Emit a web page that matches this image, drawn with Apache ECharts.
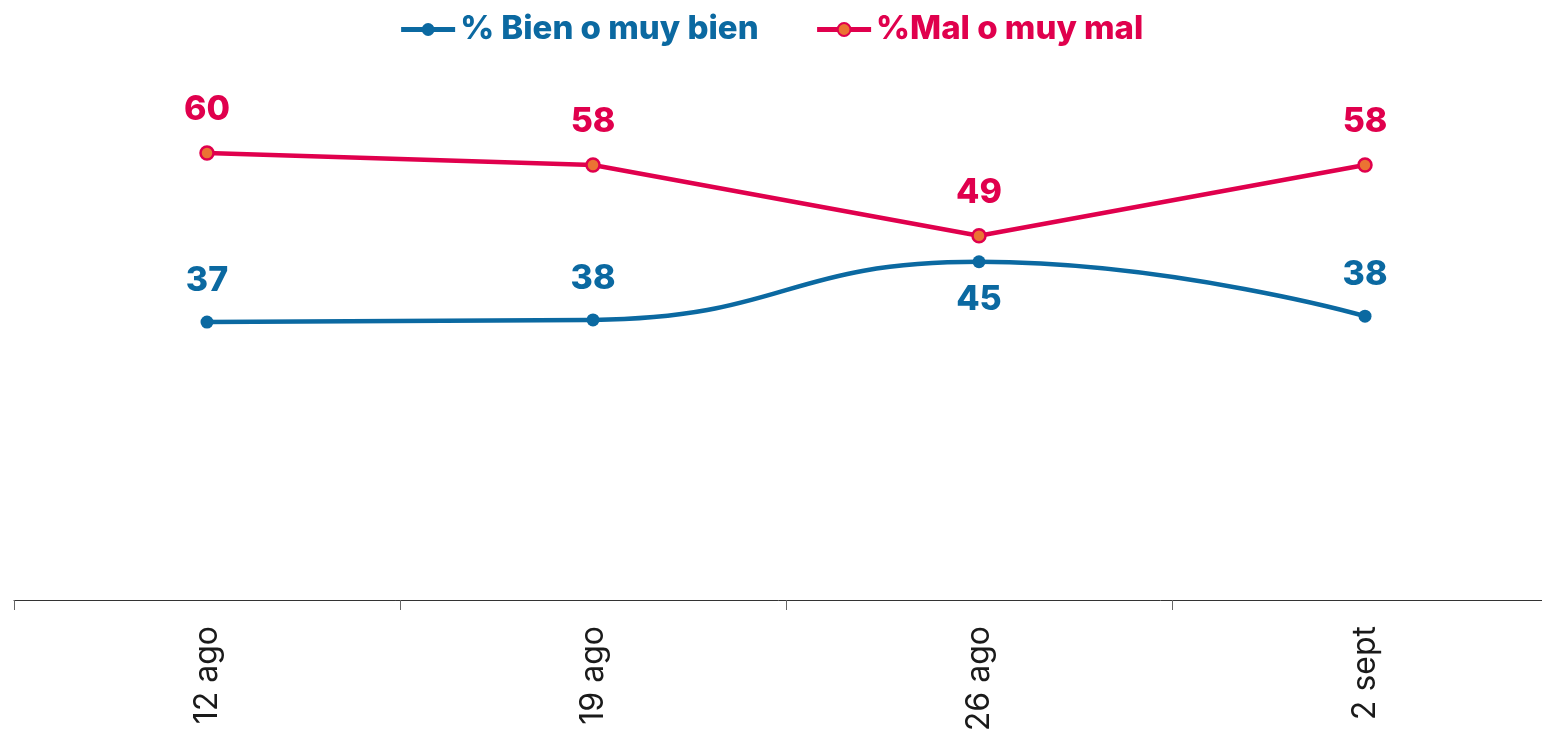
<!DOCTYPE html>
<html>
<head>
<meta charset="utf-8">
<script src="https://cdn.jsdelivr.net/npm/echarts@6/dist/echarts.min.js"></script>
<style>
  html, body { margin: 0; padding: 0; background: #fff; }
  #main { width: 1542px; height: 738px; }
</style>
</head>
<body>
<div id="main"></div>
<script>
// data
var fechas = ["12 ago", "19 ago", "26 ago", "2 sept"];
var bien = [37.3, 37.6, 45.4, 38.1];
var mal = [60.0, 58.4, 48.9, 58.4];

var azul = "#0b69a1";
var rojo = "#e0004d";

var chartDom = document.getElementById("main");
var myChart = echarts.init(chartDom, null, { renderer: "canvas" });

var labelBase = {
  show: true,
  position: "top",
  distance: 18,
  fontFamily: "Inter",
  fontWeight: 800,
  fontSize: 34,
  formatter: function (p) {
    return Math.round(p.value);
  },
};

var option = {
  animation: false,
  legend: {
    top: 8,
    left: "center",
    itemWidth: 54,
    itemHeight: 16,
    itemGap: 56,
    lineStyle: { width: 5 },
    textStyle: {
      fontFamily: "Inter",
      fontWeight: 800,
      fontSize: 33,
    },
    data: [
      { name: "% Bien o muy bien", textStyle: { color: azul } },
      { name: "%Mal o muy mal", textStyle: { color: rojo } },
    ],
  },
  grid: {
    left: 14,
    top: 4,
    width: 1544,
    bottom: 138,
    outerBoundsMode: "none",
    containLabel: false,
  },
  xAxis: {
    type: "category",
    data: fechas,
    axisLine: { lineStyle: { color: "#333", width: 1 } },
    axisTick: { show: true, length: 10, lineStyle: { color: "#666" } },
    axisLabel: {
      rotate: 90,
      margin: 26,
      fontFamily: "Inter",
      fontSize: 32,
      color: "#1a1a1a",
    },
  },
  yAxis: {
    type: "value",
    min: 0,
    max: 80,
    show: false,
    splitLine: { show: false },
  },
  series: [
    {
      name: "% Bien o muy bien",
      type: "line",
      smooth: 0.5,
      data: bien.map(function (v, i) {
        if (i === 2) {
          return { value: v, label: { position: "bottom", distance: 15 } };
        }
        return v;
      }),
      symbol: "circle",
      symbolSize: 13,
      lineStyle: { color: azul, width: 4.5 },
      itemStyle: { color: azul },
      label: Object.assign({}, labelBase, { color: azul }),
    },
    {
      name: "%Mal o muy mal",
      type: "line",
      data: mal,
      symbol: "circle",
      symbolSize: 13,
      lineStyle: { color: rojo, width: 4.5 },
      itemStyle: { color: "#eb7333", borderColor: rojo, borderWidth: 2.5 },
      label: Object.assign({}, labelBase, { color: rojo }),
    },
  ],
};

option && myChart.setOption(option);
</script>
</body>
</html>
